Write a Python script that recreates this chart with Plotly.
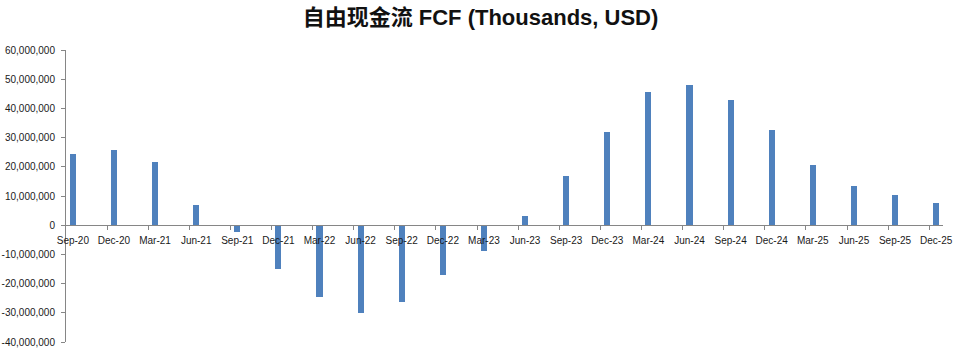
import plotly.graph_objects as go

quarters = ["Sep-20", "Dec-20", "Mar-21", "Jun-21", "Sep-21", "Dec-21", "Mar-22", "Jun-22",
            "Sep-22", "Dec-22", "Mar-23", "Jun-23", "Sep-23", "Dec-23", "Mar-24", "Jun-24",
            "Sep-24", "Dec-24", "Mar-25", "Jun-25", "Sep-25", "Dec-25"]
fcf = [24.5e6, 25.8e6, 21.8e6, 6.9e6, -2.3e6, -14.9e6, -24.6e6, -30.0e6,
       -26.3e6, -17.0e6, -8.8e6, 3.3e6, 16.9e6, 31.9e6, 45.6e6, 48.0e6,
       42.9e6, 32.6e6, 20.6e6, 13.5e6, 10.4e6, 7.6e6]
y_ticks = [-40e6, -30e6, -20e6, -10e6, 0, 10e6, 20e6, 30e6, 40e6, 50e6, 60e6]
y_ticktext = ["-40,000,000", "-30,000,000", "-20,000,000", "-10,000,000", "0",
              "10,000,000", "20,000,000", "30,000,000", "40,000,000", "50,000,000", "60,000,000"]

# date axis in months: each quarter-end sits on a monthly slot
month_pos = [3 * i for i in range(len(quarters))]
boundary_ticks = [3 * i - 0.5 for i in range(1, len(quarters))]

fig = go.Figure()
fig.add_trace(go.Bar(x=month_pos, y=fcf, width=0.44, marker_color="#4F81BD",
                     marker_line_width=0, showlegend=False))
# invisible trace to activate overlay axis for boundary tick marks
fig.add_trace(go.Scatter(x=[month_pos[0]], y=[0], xaxis="x2", mode="markers",
                         marker=dict(opacity=0), showlegend=False, hoverinfo="skip"))

axis_font = dict(family="Liberation Sans", size=10, color="#1a1a1a")
fig.update_layout(
    width=961, height=353,
    margin=dict(l=66, r=18, t=50, b=11),
    plot_bgcolor="white", paper_bgcolor="white",
    title=dict(text="<b>自由现金流 FCF (Thousands, USD)</b>",
               font=dict(family="Liberation Sans, Noto Sans CJK SC", size=22, color="#111"),
               x=0.5, xanchor="center", y=0.95, yanchor="middle"),
    bargap=0,
    xaxis=dict(range=[-0.5, 63.5], tickmode="array", tickvals=month_pos, ticktext=quarters,
               ticks="", showline=True, linecolor="#868686", linewidth=1,
               showgrid=False, zeroline=False, anchor="free", position=0.4,
               tickfont=axis_font, ticklabelstandoff=6, automargin=False, fixedrange=True),
    xaxis2=dict(range=[-0.5, 63.5], overlaying="x", anchor="free", position=0.4,
                tickmode="array", tickvals=boundary_ticks, ticks="outside", ticklen=4,
                tickcolor="#868686", showticklabels=False, showgrid=False,
                zeroline=False, showline=False, automargin=False),
    yaxis=dict(range=[-40e6, 60e6], tickmode="array", tickvals=y_ticks, ticktext=y_ticktext,
               ticks="outside", ticklen=4, tickcolor="#868686", showline=True,
               linecolor="#868686", linewidth=1, showgrid=False, zeroline=False,
               tickfont=axis_font, ticklabelstandoff=4, automargin=False),
)

fig.write_html("out.html")
